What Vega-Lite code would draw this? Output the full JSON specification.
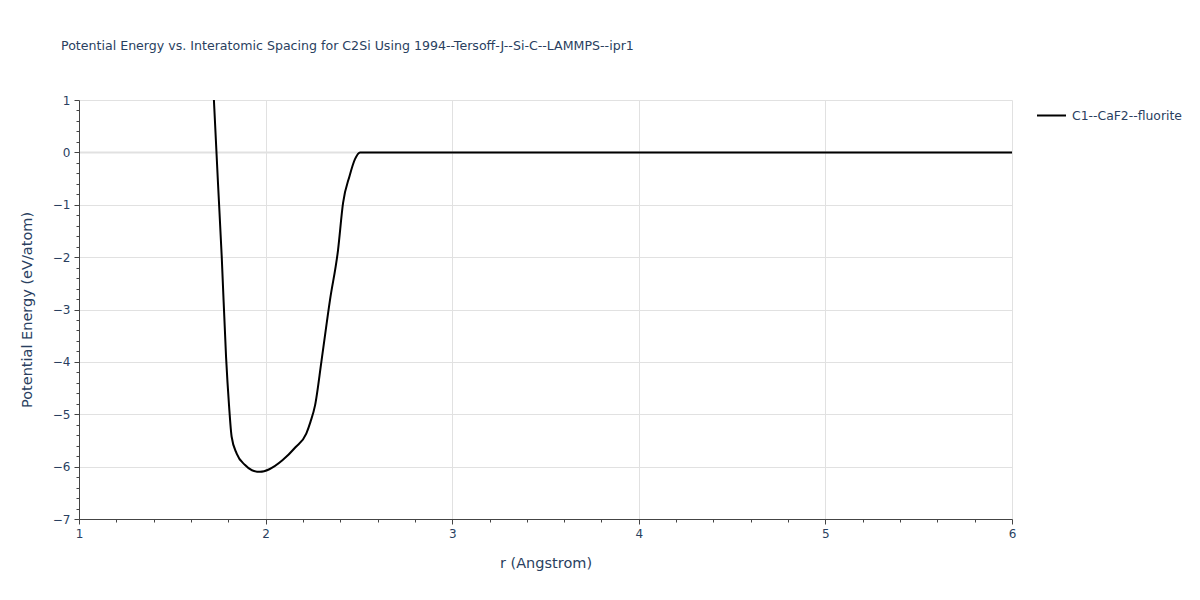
{
  "$schema": "https://vega.github.io/schema/vega-lite/v6.json",
  "width": 933,
  "height": 419,
  "autosize": {"type": "none"},
  "padding": {"left": 79, "top": 100, "right": 188, "bottom": 81},
  "background": "white",
  "title": {
    "text": "Potential Energy vs. Interatomic Spacing for C2Si Using 1994--Tersoff-J--Si-C--LAMMPS--ipr1",
    "anchor": "start",
    "frame": "group",
    "dx": -18,
    "offset": 41,
    "font": "DejaVu Sans",
    "fontSize": 12.6,
    "fontWeight": "normal",
    "color": "#2a3f5f"
  },
  "config": {
    "view": {"stroke": null},
    "font": "DejaVu Sans"
  },
  "data": {
    "values": [
      {"r": 1.70, "E": 2.7, "structure": "C1--CaF2--fluorite"},
      {"r": 1.723, "E": 1.0, "structure": "C1--CaF2--fluorite"},
      {"r": 1.745, "E": -0.6, "structure": "C1--CaF2--fluorite"},
      {"r": 1.765, "E": -2.0, "structure": "C1--CaF2--fluorite"},
      {"r": 1.788, "E": -3.9, "structure": "C1--CaF2--fluorite"},
      {"r": 1.804, "E": -4.83, "structure": "C1--CaF2--fluorite"},
      {"r": 1.818, "E": -5.43, "structure": "C1--CaF2--fluorite"},
      {"r": 1.845, "E": -5.75, "structure": "C1--CaF2--fluorite"},
      {"r": 1.89, "E": -5.97, "structure": "C1--CaF2--fluorite"},
      {"r": 1.927, "E": -6.07, "structure": "C1--CaF2--fluorite"},
      {"r": 1.97, "E": -6.1, "structure": "C1--CaF2--fluorite"},
      {"r": 2.02, "E": -6.05, "structure": "C1--CaF2--fluorite"},
      {"r": 2.09, "E": -5.88, "structure": "C1--CaF2--fluorite"},
      {"r": 2.16, "E": -5.63, "structure": "C1--CaF2--fluorite"},
      {"r": 2.218, "E": -5.37, "structure": "C1--CaF2--fluorite"},
      {"r": 2.24, "E": -5.15, "structure": "C1--CaF2--fluorite"},
      {"r": 2.265, "E": -4.83, "structure": "C1--CaF2--fluorite"},
      {"r": 2.30, "E": -3.97, "structure": "C1--CaF2--fluorite"},
      {"r": 2.345, "E": -2.82, "structure": "C1--CaF2--fluorite"},
      {"r": 2.388, "E": -1.87, "structure": "C1--CaF2--fluorite"},
      {"r": 2.415, "E": -0.97, "structure": "C1--CaF2--fluorite"},
      {"r": 2.45, "E": -0.45, "structure": "C1--CaF2--fluorite"},
      {"r": 2.479, "E": -0.13, "structure": "C1--CaF2--fluorite"},
      {"r": 2.506, "E": 0.0, "structure": "C1--CaF2--fluorite"},
      {"r": 3.0, "E": 0.0, "structure": "C1--CaF2--fluorite"},
      {"r": 4.0, "E": 0.0, "structure": "C1--CaF2--fluorite"},
      {"r": 5.0, "E": 0.0, "structure": "C1--CaF2--fluorite"},
      {"r": 6.0, "E": 0.0, "structure": "C1--CaF2--fluorite"}
    ]
  },
  "mark": {"type": "line", "clip": true, "strokeWidth": 2, "interpolate": "monotone"},
  "encoding": {
    "x": {
      "field": "r",
      "type": "quantitative",
      "scale": {"domain": [1, 6], "nice": false, "zero": false},
      "axis": {
        "title": "r (Angstrom)",
        "values": [1, 1.2, 1.4, 1.6, 1.8, 2, 2.2, 2.4, 2.6, 2.8, 3, 3.2, 3.4, 3.6, 3.8, 4, 4.2, 4.4, 4.6, 4.8, 5, 5.2, 5.4, 5.6, 5.8, 6],
        "labelExpr": "abs(round(datum.value) - datum.value) < 0.01 ? format(datum.value, 'd') : ''",
        "gridColor": {"condition": {"test": "abs(round(datum.value) - datum.value) > 0.01", "value": "transparent"}, "value": "#e1e1e1"},
        "tickSize": {"condition": {"test": "abs(round(datum.value) - datum.value) > 0.01", "value": 3}, "value": 5},
        "tickColor": "#444444",
        "domainColor": "#444444",
        "domainWidth": 1,
        "labelColor": "#2a3f5f",
        "labelFontSize": 12,
        "labelPadding": 4,
        "titleColor": "#2a3f5f",
        "titleFontSize": 14.5,
        "titleFontWeight": "normal",
        "titlePadding": 17,
        "labelFlush": false
      }
    },
    "y": {
      "field": "E",
      "type": "quantitative",
      "scale": {"domain": [-7, 1], "nice": false, "zero": false},
      "axis": {
        "title": "Potential Energy (eV/atom)",
        "values": [-7, -6.8, -6.6, -6.4, -6.2, -6, -5.8, -5.6, -5.4, -5.2, -5, -4.8, -4.6, -4.4, -4.2, -4, -3.8, -3.6, -3.4, -3.2, -3, -2.8, -2.6, -2.4, -2.2, -2, -1.8, -1.6, -1.4, -1.2, -1, -0.8, -0.6, -0.4, -0.2, 0, 0.2, 0.4, 0.6, 0.8, 1],
        "labelExpr": "abs(round(datum.value) - datum.value) < 0.01 ? format(round(datum.value), 'd') : ''",
        "gridColor": {"condition": {"test": "abs(round(datum.value) - datum.value) > 0.01", "value": "transparent"}, "value": "#e1e1e1"},
        "gridWidth": {"condition": {"test": "abs(datum.value) < 0.01", "value": 2}, "value": 1},
        "tickSize": {"condition": {"test": "abs(round(datum.value) - datum.value) > 0.01", "value": 3}, "value": 5},
        "tickColor": "#444444",
        "domainColor": "#444444",
        "domainWidth": 1,
        "labelColor": "#2a3f5f",
        "labelFontSize": 12,
        "labelPadding": 4,
        "titleColor": "#2a3f5f",
        "titleFontSize": 14.5,
        "titleFontWeight": "normal",
        "titlePadding": 18,
        "labelFlush": false
      }
    },
    "color": {
      "field": "structure",
      "type": "nominal",
      "scale": {"range": ["black"]},
      "legend": {
        "title": null,
        "orient": "none",
        "legendX": 957,
        "legendY": 0,
        "symbolType": "stroke",
        "symbolStrokeWidth": 2,
        "symbolSize": 841,
        "labelFontSize": 12.4,
        "labelOffset": 5,
        "labelColor": "#2a3f5f",
        "labelFont": "DejaVu Sans"
      }
    }
  }
}
